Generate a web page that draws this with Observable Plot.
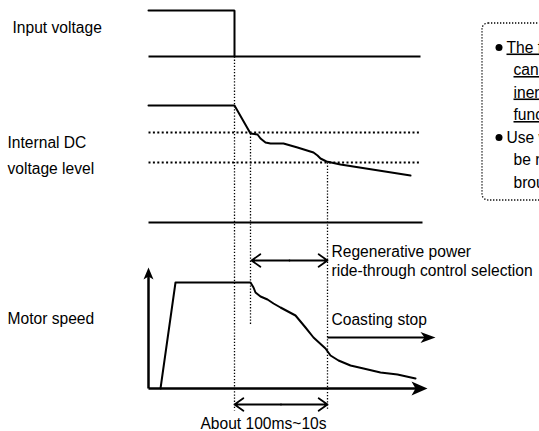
<!DOCTYPE html>
<html>
<head>
<meta charset="utf-8">
<script src="https://cdn.jsdelivr.net/npm/d3@7"></script>
<script src="https://cdn.jsdelivr.net/npm/@observablehq/plot@0.6"></script>
<style>
html, body { margin: 0; padding: 0; overflow: hidden; background: #fff; }
#chart { width: 539px; height: 431px; overflow: hidden; }
</style>
</head>
<body>
<div id="chart"></div>
<script>
// ---- Diagram data (time axis t, level v in diagram units) ----
const inputSignal = [{t:148,v:10},{t:234,v:10},{t:234,v:56}];
const baselines = [{t1:148,t2:420,v:56},{t1:148,t2:422,v:222}];
const dcVoltage = [
  {t:148,v:105},{t:234,v:105},{t:250,v:133},{t:257,v:134},{t:260,v:138},{t:265,v:142},
  {t:270,v:143},{t:283,v:143},{t:297,v:147},{t:313,v:152},{t:317,v:155},{t:320,v:158},
  {t:326,v:161},{t:340,v:164},{t:410,v:175}
];
const dcThresholds = [{t1:148,t2:420,v:132},{t1:148,t2:420,v:162}];
const motorSpeed = [
  {t:160,v:388},{t:175,v:282},{t:250,v:282},{t:253,v:287},{t:255,v:292},{t:260,v:296},
  {t:267,v:299},{t:273,v:303},{t:280,v:307},{t:295,v:315},{t:305,v:327},{t:313,v:337},
  {t:325,v:348},{t:330,v:355},{t:338,v:360},{t:350,v:365},{t:363,v:368},{t:380,v:372},
  {t:397,v:374},{t:415,v:378}
];
const timeMarkers = [{t:234,v1:56,v2:410},{t:250,v1:133,v2:325},{t:327,v1:162,v2:410}];
const axes = [{t1:148,v1:388,t2:148,v2:272},{t1:148,v1:388,t2:418,v2:388}];
const coastArrow = [{t1:327,v1:337,t2:426,v2:337}];
const upHeads = [{t:148,v:267}];
const bigRightHeads = [{t:427,v:388}];
const smallRightHeads = [{t:435,v:337}];
const spans = [{t1:251,t2:327,v:260},{t1:234,t2:327,v:404}];
const leftLabels = [
  {text:"Input voltage",t:12,v:27},
  {text:"Internal DC",t:7,v:142},
  {text:"voltage level",t:7,v:168},
  {text:"Motor speed",t:7,v:318}
];
const annotations = [
  {text:"Regenerative power",t:331,v:251},
  {text:"ride-through control selection",t:331,v:270},
  {text:"Coasting stop",t:331,v:319}
];
const spanLabel = [{text:"About 100ms~10s",t:263,v:423}];
const noteBox = [{t1:482,t2:620,v1:23,v2:200}];
const noteBullets = [{t:495,v:47},{t:495,v:137}];
const noteLines = [
  {text:"The free-run time",t:506,v:47,u:true},
  {text:"can be extended with the",t:513,v:69.5,u:true},
  {text:"inertia of the load by this",t:513,v:92,u:true},
  {text:"function.",t:513,v:114.5,u:true},
  {text:"Use when the motor is to",t:506,v:137,u:false},
  {text:"be restarted without being",t:513,v:159.5,u:false},
  {text:"brought to a stop.",t:513,v:182,u:false}
];

// arrowhead symbols with explicit sizes (tip at origin)
function headUp(L, W, N) {
  return {draw(ctx) { ctx.moveTo(0,0); ctx.lineTo(W,L); ctx.lineTo(0,N); ctx.lineTo(-W,L); ctx.closePath(); }};
}
function headRight(L, W, N) {
  return {draw(ctx) { ctx.moveTo(0,0); ctx.lineTo(-L,-W); ctx.lineTo(-N,0); ctx.lineTo(-L,W); ctx.closePath(); }};
}

const font = "Liberation Sans, Arial, Helvetica, sans-serif";
const fs = 15.6;

const plot = Plot.plot({
  width: 539, height: 431, margin: 0,
  x: {domain: [0, 539], axis: null},
  y: {domain: [431, 0], axis: null},
  style: {background: "#fff", color: "#000", fontFamily: font},
  marks: [
    Plot.rect(noteBox, {x1:"t1", x2:"t2", y1:"v1", y2:"v2", fill:"none", stroke:"#000", strokeWidth:1.3, strokeDasharray:"1.3,1.7", rx:6}),
    Plot.link(dcThresholds, {x1:"t1", x2:"t2", y1:"v", y2:"v", stroke:"#000", strokeWidth:2, strokeDasharray:"2,2.4"}),
    Plot.link(timeMarkers, {x1:"t", x2:"t", y1:"v1", y2:"v2", stroke:"#000", strokeWidth:1.3, strokeDasharray:"1.3,1.8"}),
    Plot.link(baselines, {x1:"t1", x2:"t2", y1:"v", y2:"v", stroke:"#000", strokeWidth:2}),
    Plot.line(inputSignal, {x:"t", y:"v", stroke:"#000", strokeWidth:2, strokeLinejoin:"miter"}),
    Plot.line(dcVoltage, {x:"t", y:"v", stroke:"#000", strokeWidth:2}),
    Plot.link(axes, {x1:"t1", y1:"v1", x2:"t2", y2:"v2", stroke:"#000", strokeWidth:2.5}),
    Plot.dot(upHeads, {x:"t", y:"v", r:5, symbol: headUp(12, 5, 9), fill:"#000", stroke:"none"}),
    Plot.dot(bigRightHeads, {x:"t", y:"v", r:5, symbol: headRight(16, 7, 12), fill:"#000", stroke:"none"}),
    Plot.dot(smallRightHeads, {x:"t", y:"v", r:5, symbol: headRight(15, 5.5, 11), fill:"#000", stroke:"none"}),
    Plot.line(motorSpeed, {x:"t", y:"v", stroke:"#000", strokeWidth:2}),
    Plot.link(coastArrow, {x1:"t1", y1:"v1", x2:"t2", y2:"v2", stroke:"#000", strokeWidth:2}),
    Plot.arrow(spans, {x1: d => (d.t1+d.t2)/2, x2:"t1", y1:"v", y2:"v", stroke:"#000", strokeWidth:1.8, headLength:9, headAngle:70}),
    Plot.arrow(spans, {x1: d => (d.t1+d.t2)/2, x2:"t2", y1:"v", y2:"v", stroke:"#000", strokeWidth:1.8, headLength:9, headAngle:70}),
    Plot.text(leftLabels, {x:"t", y:"v", text:"text", textAnchor:"start", fontSize:fs, fontFamily:font, fill:"#000"}),
    Plot.text(annotations, {x:"t", y:"v", text:"text", textAnchor:"start", fontSize:fs, fontFamily:font, fill:"#000"}),
    Plot.text(spanLabel, {x:"t", y:"v", text:"text", textAnchor:"middle", fontSize:fs, fontFamily:font, fill:"#000"}),
    Plot.dot(noteBullets, {x:"t", y:"v", dx:3.5, r:3.5, fill:"#000", stroke:"none"}),
    Plot.text(noteLines, {x:"t", y:"v", text:"text", textAnchor:"start", fontSize:fs, fontFamily:font, fill:"#000"})
  ]
});

const underlined = new Set(noteLines.filter(d => d.u).map(d => d.text));
plot.querySelectorAll("text").forEach(el => {
  if (underlined.has(el.textContent)) el.style.textDecoration = "underline";
});

document.getElementById("chart").appendChild(plot);
</script>
</body>
</html>
